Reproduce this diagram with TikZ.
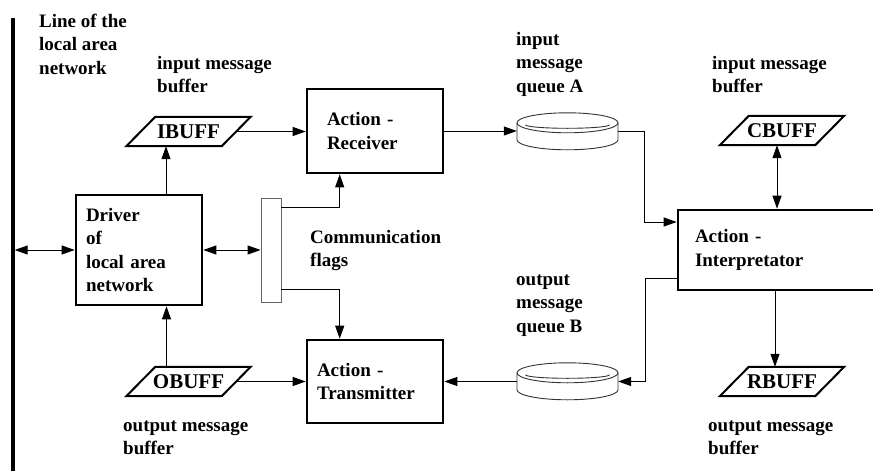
\documentclass[tikz,border=0pt]{standalone}
\usepackage{fontspec}
\setmainfont{Liberation Serif}
\usetikzlibrary{arrows.meta,calc}
\begin{document}
\begin{tikzpicture}[x=1pt,y=-1pt,
  txt/.style={font=\fontsize{19}{23.5}\selectfont\bfseries},
  lbl/.style={txt,align=left,inner sep=0,anchor=north west},
  blk/.style={txt,draw,line width=2.6pt,align=left,inner ysep=0,anchor=center},
  buf/.style={font=\fontsize{21}{25}\selectfont\bfseries,inner sep=0,minimum width=95,minimum height=29},
  bufline/.style={line width=2pt,line join=miter},
  que/.style={minimum width=101,minimum height=37,inner sep=0},
  qline/.style={line width=0.9pt,draw=black!80},
  con/.style={line width=1pt,-{Triangle[length=13pt,width=9pt]}},
  dcon/.style={line width=1pt,{Triangle[length=13pt,width=9pt]}-{Triangle[length=13pt,width=9pt]}},
  ]
\useasboundingbox[fill=white] (0,0) rectangle (873,471);
\clip (0,0) rectangle (873,471);

% line of the local area network
\draw[line width=3.3pt] (13,18) -- (13,471);
\coordinate (lanp) at (14.7,250);

% processing blocks
\node[blk,minimum width=126,minimum height=110,inner xsep=10,text width=106] (drv) at (139,250) {Driver\\of\\local area\\network};
\node[blk,minimum width=136,minimum height=84,inner xsep=20,text width=96] (rcv) at (375,131) {Action -\\Receiver};
\node[blk,minimum width=136,minimum height=83,inner xsep=10,text width=116] (trm) at (375,381.5) {Action -\\Transmitter};
\node[blk,minimum width=230,minimum height=80,inner xsep=17,text width=196] (int) at (793,250) {Action -\\Interpretator};

% communication flags
\node[draw=black!60,line width=0.8pt,minimum width=20,minimum height=104,inner sep=0] (fl) at (271,250) {};

% message buffers
\node[buf] (ib) at (188.5,131.5) {IBUFF};
\node[buf] (ob) at (188.5,381.5) {OBUFF};
\node[buf] (cb) at (782,130.5) {CBUFF};
\node[buf] (rb) at (782,381.5) {RBUFF};
\foreach \n in {ib,ob,cb,rb}
  \draw[bufline] ([xshift=-14.5]\n.south west) -- ([xshift=-14.5]\n.south east)
    -- ([xshift=14.5]\n.north east) -- ([xshift=14.5]\n.north west) -- cycle;

% message queues
\node[que] (qa) at (567.5,131.5) {};
\node[que] (qb) at (567.5,381.5) {};
\foreach \q in {qa,qb} {
  \draw[qline] ($(\q.north)+(0,10)$) ellipse [x radius=50.5, y radius=10];
  \draw[qline] ($(\q.north)+(-42,12)$) arc[start angle=180,end angle=0,x radius=42,y radius=3.5];
  \draw[qline] ($(\q.north)+(-50.5,10)$) -- ++(0,17)
    arc[start angle=180,end angle=0,x radius=50.5,y radius=10] -- ++(0,-17);
}

% connectors
\draw[dcon] (lanp) -- (drv.west);
\draw[dcon] (drv.east) -- (fl.west);
\draw[con] ([xshift=27]drv.north) -- ([xshift=27]drv.north |- ib.south);
\draw[con] ([xshift=-22]ob.north) -- ([xshift=-22]ob.north |- drv.south);
\draw[con] (ib.east) -- (ib.east -| rcv.west);
\draw[con] (ob.east) -- (ob.east -| trm.west);
\draw[con] ([yshift=-10]fl.north east) -| ([xshift=34]rcv.south west);
\draw[con] ([yshift=13]fl.south east) -| ([xshift=34]trm.north west);
\draw[con] (rcv.east) -- (rcv.east -| qa.west);
\draw[con] (qa.east) -- ++(26,0) |- ([yshift=28]int.west);
\draw[con] ([yshift=-28]int.west) -- ++(-31,0) |- (qb.east);
\draw[con] (qb.west) -- (trm.east);
\draw[dcon] ([xshift=-5]cb.south) -- ([xshift=-5]cb.south |- int.north);
\draw[con] ([xshift=-7]rb.north |- int.south) -- ([xshift=-7]rb.north);

% labels
\node[lbl] (lanlbl) at (39,10.5) {\strut Line of the\\local area\\network};
\node[lbl] (iblbl) at (157,52.5) {\strut input message\\buffer};
\node[lbl] (fllbl) at (310,226.5) {\strut Communication\\flags};
\node[lbl] (oblbl) at (123,414.5) {\strut output message\\buffer};
\node[lbl] (qalbl) at (516,28.5) {\strut input\\message\\queue A};
\node[lbl] (qblbl) at (516,268.5) {\strut output\\message\\queue B};
\node[lbl] (cblbl) at (712,52.5) {\strut input message\\buffer};
\node[lbl] (rblbl) at (708,414.5) {\strut output message\\buffer};
\end{tikzpicture}
\end{document}
